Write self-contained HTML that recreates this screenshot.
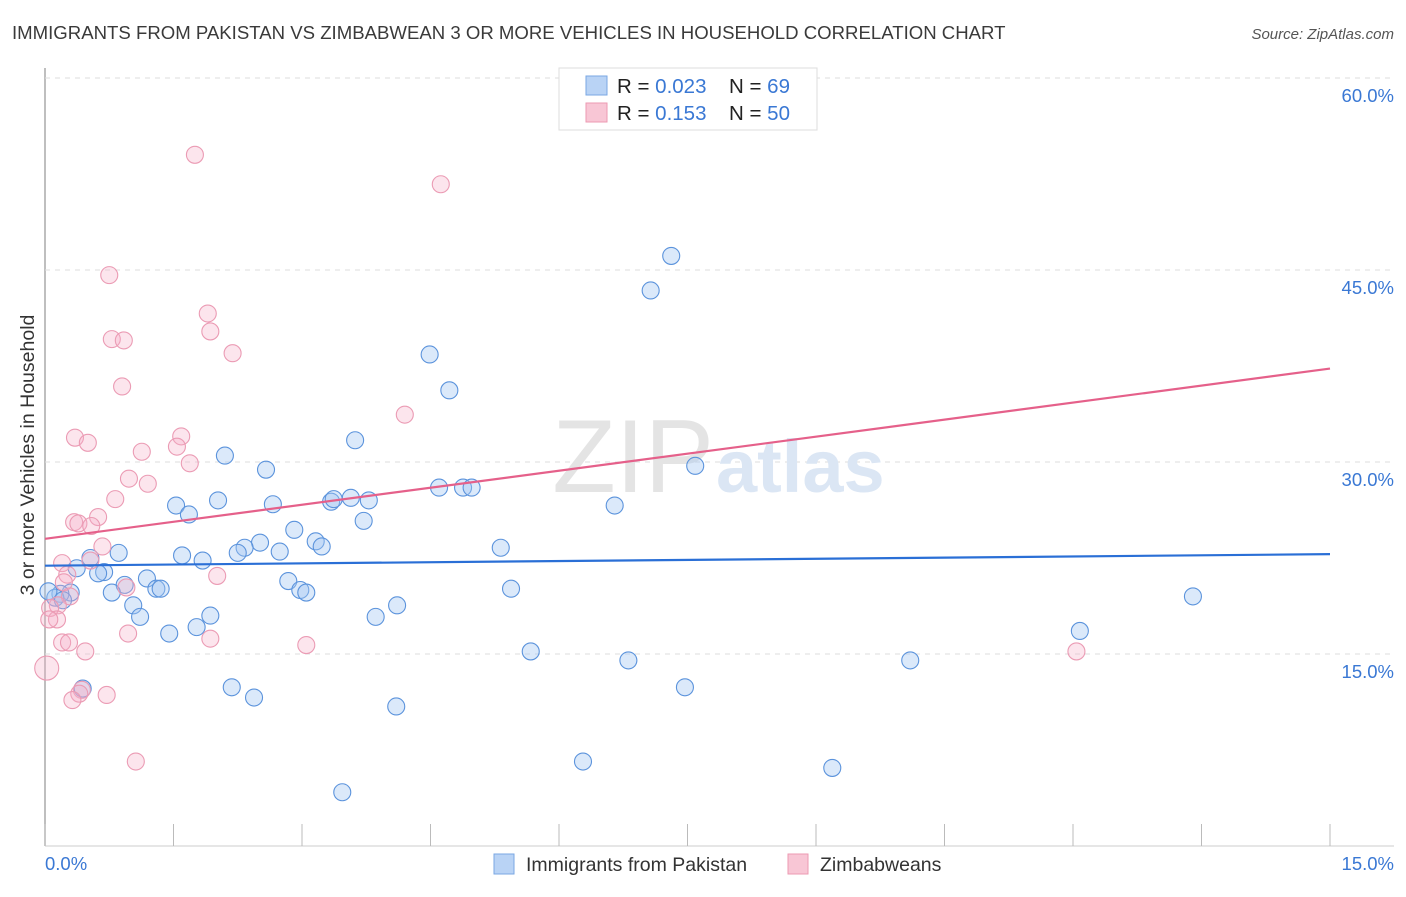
<!DOCTYPE html>
<html><head><meta charset="utf-8"><style>
body{margin:0;background:#fff;font-family:"Liberation Sans",sans-serif;}
svg text{font-family:"Liberation Sans",sans-serif;}
</style></head><body>
<svg width="1406" height="892" viewBox="0 0 1406 892" xmlns="http://www.w3.org/2000/svg">
<text x="12" y="39" font-size="18.6" fill="#3a3a3a">IMMIGRANTS FROM PAKISTAN VS ZIMBABWEAN 3 OR MORE VEHICLES IN HOUSEHOLD CORRELATION CHART</text>
<text x="1394" y="39" font-size="15" fill="#555" font-style="italic" text-anchor="end">Source: ZipAtlas.com</text>
<g id="grid"></g>
<text x="714" y="492" font-size="104" fill="#e4e4e4" text-anchor="end" font-family="Liberation Serif">ZIP</text>
<text x="716" y="492" font-size="74" fill="#dbe6f4" font-weight="bold">atlas</text>
<text transform="translate(34,455) rotate(-90)" font-size="19.5" fill="#333" text-anchor="middle">3 or more Vehicles in Household</text>
<g id="pts"></g>
<g id="lines"></g>
<g>
<rect x="559" y="68" width="258" height="62" fill="#fff" stroke="#ddd"/>
<rect x="586" y="76" width="21" height="19" fill="#b9d3f5" stroke="#7aa7e3"/>
<rect x="586" y="103" width="21" height="19" fill="#f8c6d5" stroke="#ec9ab2"/>
<text x="617" y="93" font-size="20.5" fill="#222">R = <tspan fill="#3a78d4">0.023</tspan></text>
<text x="729" y="93" font-size="20.5" fill="#222">N = <tspan fill="#3a78d4"> 69</tspan></text>
<text x="617" y="120" font-size="20.5" fill="#222">R = <tspan fill="#3a78d4"> 0.153</tspan></text>
<text x="729" y="120" font-size="20.5" fill="#222">N = <tspan fill="#3a78d4">50</tspan></text>
</g>
<g>
<rect x="494" y="854" width="20" height="20" fill="#b9d3f5" stroke="#7aa7e3"/>
<text x="526" y="871" font-size="19.5" fill="#333">Immigrants from Pakistan</text>
<rect x="788" y="854" width="20" height="20" fill="#f8c6d5" stroke="#ec9ab2"/>
<text x="820" y="871" font-size="19.5" fill="#333">Zimbabweans</text>
</g>
<text x="45" y="870" font-size="18.5" fill="#3a78d4">0.0%</text>
<text x="1394" y="870" font-size="18.5" fill="#3a78d4" text-anchor="end">15.0%</text>
</svg>
<script>
const yTicks=[15,30,45,60];
const blueX=[7.31,7.07,4.49,4.72,3.62,2.10,2.58,7.59,4.60,4.88,4.98,2.02,3.34,3.37,3.57,3.78,2.66,1.53,1.68,6.65,3.72,2.91,3.16,3.23,2.51,2.33,2.25,2.74,5.32,1.60,1.84,0.86,0.53,0.37,0.69,0.62,1.19,0.93,1.30,1.35,2.84,2.98,3.05,5.44,0.78,0.30,0.18,0.12,0.21,0.04,13.40,1.03,4.11,1.11,1.93,3.86,1.77,1.45,12.08,5.67,6.81,10.10,2.18,7.47,0.44,2.44,4.10,6.28,9.19,3.47];
const blueY=[46.1,43.4,38.4,35.6,31.7,30.5,29.4,29.7,28.0,28.0,28.0,27.0,26.9,27.1,27.2,27.0,26.7,26.6,25.9,26.6,25.4,24.7,23.8,23.4,23.7,23.3,22.9,23.0,23.3,22.7,22.3,22.9,22.5,21.7,21.4,21.3,20.9,20.4,20.1,20.1,20.7,20.0,19.8,20.1,19.8,19.8,19.7,19.4,19.2,19.9,19.5,18.8,18.8,17.9,18.0,17.9,17.1,16.6,16.8,15.2,14.5,14.5,12.4,12.4,12.3,11.6,10.9,6.6,6.1,4.2];
const pinkX=[1.75,4.62,0.75,1.90,1.93,0.78,0.92,2.19,0.90,4.20,0.35,1.59,0.50,1.54,1.13,1.69,0.98,1.20,0.82,0.62,0.34,0.39,0.54,0.67,0.53,0.20,0.26,0.22,2.01,0.95,0.29,0.15,0.06,0.14,0.05,0.97,0.20,0.28,1.93,3.05,0.47,12.04,0.02,0.43,0.40,0.72,0.32,1.06];
const pinkY=[54.0,51.7,44.6,41.6,40.2,39.6,39.5,38.5,35.9,33.7,31.9,32.0,31.5,31.2,30.8,29.9,28.7,28.3,27.1,25.7,25.3,25.2,25.0,23.4,22.3,22.1,21.2,20.6,21.1,20.2,19.5,18.8,18.6,17.7,17.7,16.6,15.9,15.9,16.2,15.7,15.2,15.2,13.9,12.2,11.9,11.8,11.4,6.6];
const blueTrend=[21.9,22.8];
const pinkTrend=[24.0,37.3];
const xMax=15;
const X=v=>45+v/xMax*1285;
const Y=v=>846-v/15*192;
const NS="http://www.w3.org/2000/svg";
function mk(t,a,p){const e=document.createElementNS(NS,t);for(const k in a)e.setAttribute(k,a[k]);p.appendChild(e);return e;}
const g=document.getElementById('grid');
mk('line',{x1:45,y1:68,x2:45,y2:846,stroke:'#aaa','stroke-width':1.5},g);
mk('line',{x1:45,y1:846,x2:1394,y2:846,stroke:'#ccc'},g);
for(let i=0;i<=10;i++){const l=mk('line',{x1:X(i*1.5),y1:824,x2:X(i*1.5),y2:846,stroke:'#bbb'},g);

}
yTicks.forEach(t=>{const l=mk('line',{x1:45,y1:Y(t),x2:1394,y2:Y(t),stroke:'#ddd','stroke-dasharray':'5,5'},g);


const tx=mk('text',{x:1394,y:Y(t)+24,'font-size':18.5,fill:'#3a78d4','text-anchor':'end'},g);tx.textContent=t.toFixed(1)+'%';

});
const p=document.getElementById('pts');
blueX.forEach((x,i)=>{const c=mk('circle',{cx:X(x),cy:Y(blueY[i]),r:8.5,fill:'rgba(160,198,242,0.38)',stroke:'#5b93dc','stroke-width':1.1},p);

});
pinkX.forEach((x,i)=>{const c=mk('circle',{cx:X(x),cy:Y(pinkY[i]),r:i==42?12:8.5,fill:'rgba(245,175,200,0.32)',stroke:'#eb9bb4','stroke-width':1.1},p);

});
const L=document.getElementById('lines');
const b=mk('line',{x1:X(0),y1:Y(blueTrend[0]),x2:X(xMax),y2:Y(blueTrend[1]),stroke:'#2a6fd6','stroke-width':2.2},L);


const pk=mk('line',{x1:X(0),y1:Y(pinkTrend[0]),x2:X(xMax),y2:Y(pinkTrend[1]),stroke:'#e5608a','stroke-width':2.2},L);


</script>
</body></html>
